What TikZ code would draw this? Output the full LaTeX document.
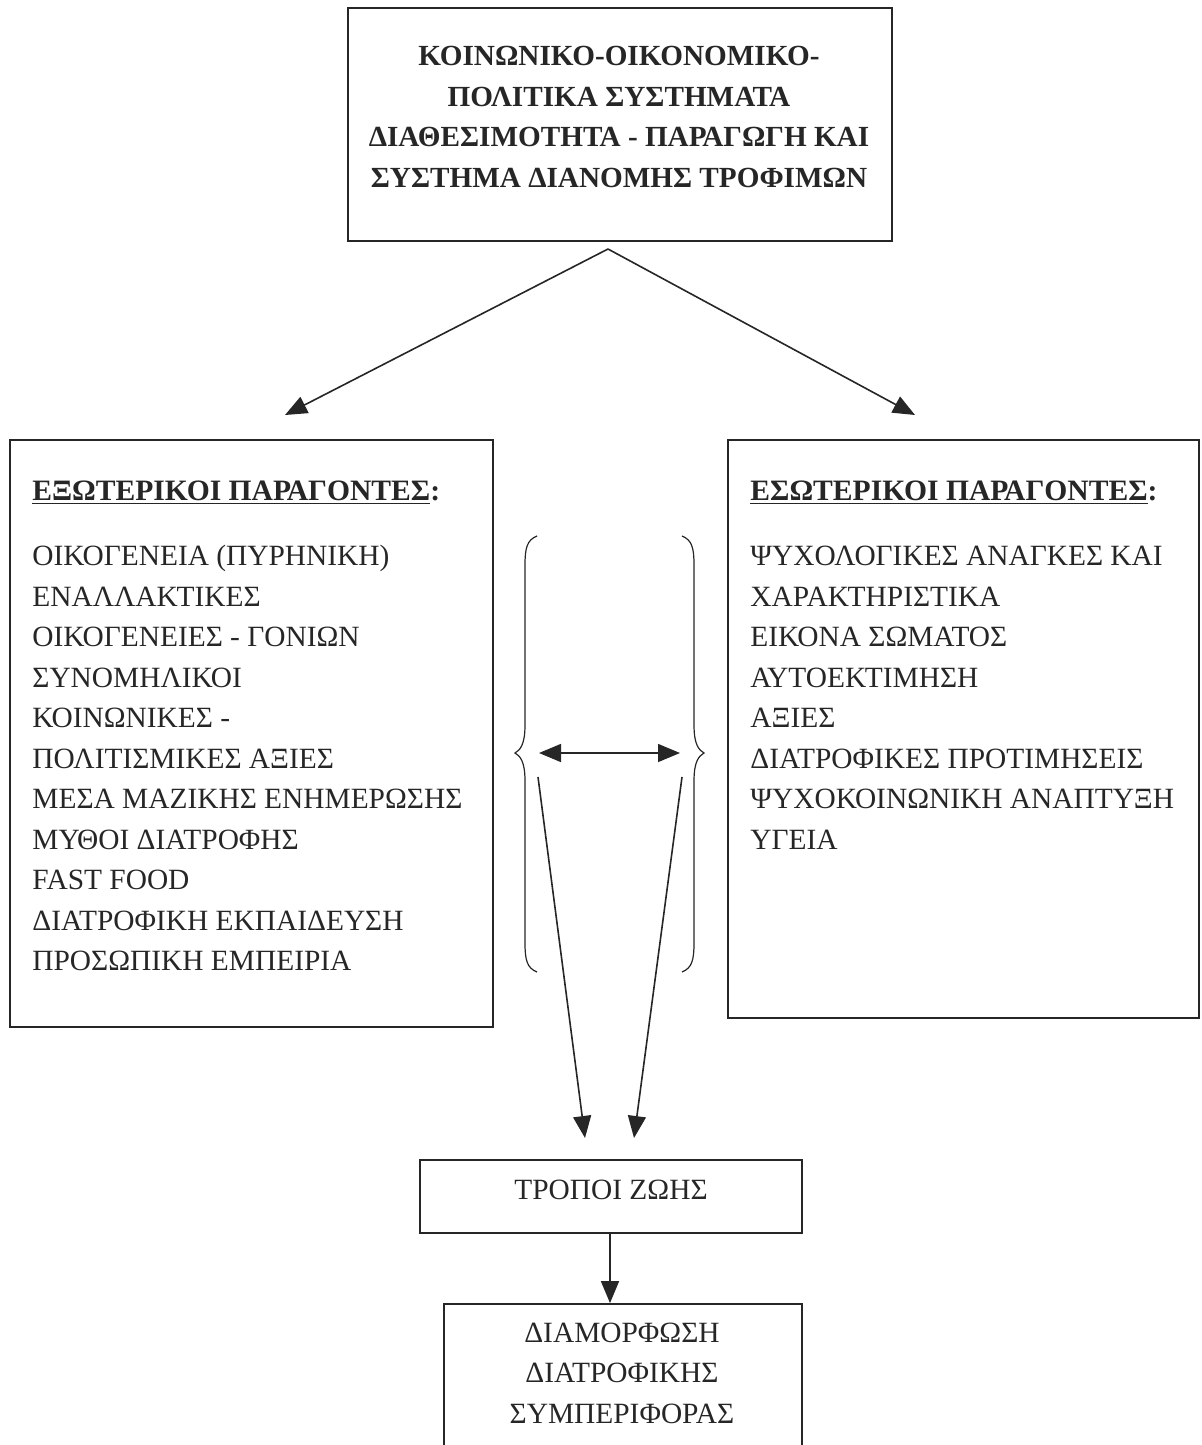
\documentclass[tikz,border=0pt]{standalone}
\usepackage{fontspec}
\setmainfont{Liberation Serif}
\usetikzlibrary{arrows.meta}
\definecolor{ink}{rgb}{0.15,0.15,0.15}
\begin{document}
\begin{tikzpicture}[x=0.5pt,y=-0.5pt,
  box/.style={draw=ink,line width=0.9pt,rectangle,inner sep=0pt},
  txt/.style={text=ink,inner sep=0pt,font=\fontsize{14.7pt}{20.25pt}\selectfont},
  hdr/.style={text=ink,inner sep=0pt,font=\fontsize{14.8pt}{20.25pt}\selectfont\bfseries},
  arr/.style={draw=ink,line width=0.8pt,-{Triangle[length=11pt,width=9pt]}},
  dbl/.style={draw=ink,line width=0.8pt,{Triangle[length=11pt,width=9pt]}-{Triangle[length=11pt,width=9pt]}},
  brc/.style={draw=ink,line width=0.6pt}]
\useasboundingbox (0,0) rectangle (1201,1445);
\clip (0,0) rectangle (1201,1445);
% boxes
\node[box,minimum width=272pt,minimum height=116.5pt] (top) at (620,124.5) {};
\node[box,minimum width=241.5pt,minimum height=293.5pt] (left) at (251.5,733.5) {};
\node[box,minimum width=235.5pt,minimum height=289pt] (right) at (963.5,729) {};
\node[box,minimum width=191pt,minimum height=36.5pt] (life) at (611,1196.5) {};
\node[box,minimum width=179pt,minimum height=90pt] (behav) at (623,1394) {};
% texts
\node[txt,align=center,font=\fontsize{14.6pt}{20.25pt}\selectfont\bfseries] (toptxt) at (619,117)
 {ΚΟΙΝΩΝΙΚΟ-ΟΙΚΟΝΟΜΙΚΟ-\\ΠΟΛΙΤΙΚΑ ΣΥΣΤΗΜΑΤΑ\\ΔΙΑΘΕΣΙΜΟΤΗΤΑ - ΠΑΡΑΓΩΓΗ ΚΑΙ\\ΣΥΣΤΗΜΑ ΔΙΑΝΟΜΗΣ ΤΡΟΦΙΜΩΝ};
\node[hdr,anchor=base west] (lhead) at (32,500)
 {\underline{ΕΞΩΤΕΡΙΚΟΙ ΠΑΡΑΓΟΝΤΕΣ}:};
\node[hdr,anchor=base west] (rhead) at (750,500)
 {\underline{ΕΣΩΤΕΡΙΚΟΙ ΠΑΡΑΓΟΝΤΕΣ}:};
\node[txt,anchor=north west,align=left] (ltxt) at (32,545)
 {ΟΙΚΟΓΕΝΕΙΑ (ΠΥΡΗΝΙΚΗ)\\ΕΝΑΛΛΑΚΤΙΚΕΣ\\ΟΙΚΟΓΕΝΕΙΕΣ - ΓΟΝΙΩΝ\\ΣΥΝΟΜΗΛΙΚΟΙ\\ΚΟΙΝΩΝΙΚΕΣ -\\ΠΟΛΙΤΙΣΜΙΚΕΣ ΑΞΙΕΣ\\ΜΕΣΑ ΜΑΖΙΚΗΣ ΕΝΗΜΕΡΩΣΗΣ\\ΜΥΘΟΙ ΔΙΑΤΡΟΦΗΣ\\FAST FOOD\\ΔΙΑΤΡΟΦΙΚΗ ΕΚΠΑΙΔΕΥΣΗ\\ΠΡΟΣΩΠΙΚΗ ΕΜΠΕΙΡΙΑ};
\node[txt,anchor=north west,align=left] (rtxt) at (750,546)
 {ΨΥΧΟΛΟΓΙΚΕΣ ΑΝΑΓΚΕΣ ΚΑΙ\\ΧΑΡΑΚΤΗΡΙΣΤΙΚΑ\\ΕΙΚΟΝΑ ΣΩΜΑΤΟΣ\\ΑΥΤΟΕΚΤΙΜΗΣΗ\\ΑΞΙΕΣ\\ΔΙΑΤΡΟΦΙΚΕΣ ΠΡΟΤΙΜΗΣΕΙΣ\\ΨΥΧΟΚΟΙΝΩΝΙΚΗ ΑΝΑΠΤΥΞΗ\\ΥΓΕΙΑ};
\node[txt] (lifetxt) at (611,1190) {ΤΡΟΠΟΙ ΖΩΗΣ};
\node[txt,align=center] (behavtxt) at (622,1373) {ΔΙΑΜΟΡΦΩΣΗ\\ΔΙΑΤΡΟΦΙΚΗΣ\\ΣΥΜΠΕΡΙΦΟΡΑΣ};
% coordinates
\coordinate (apex) at (608,249);
\coordinate (ltip) at (285,415);
\coordinate (rtip) at (915,415);
\coordinate (dl0) at (538,777);
\coordinate (dr0) at (682,777);
\coordinate (dl1) at (585,1138);
\coordinate (dr1) at (634,1138);
\coordinate (hl) at (539,753);
\coordinate (hr) at (680,753);
% connectors
\draw[arr] (apex) -- (ltip);
\draw[arr] (apex) -- (rtip);
\draw[dbl] (hl) -- (hr);
\draw[arr] (dl0) -- (dl1);
\draw[arr] (dr0) -- (dr1);
\draw[arr] (life.south -| 610,0) -- (behav.north -| 610,0);
% braces
\draw[brc] (537,536) .. controls (527,540) and (525,548) .. (525,565) -- (525,725)
  .. controls (525,745) and (520,750) .. (515,753)
  .. controls (520,756) and (525,761) .. (525,781) -- (525,943)
  .. controls (525,960) and (527,968) .. (537,972);
\draw[brc] (682,536) .. controls (692,540) and (694,548) .. (694,565) -- (694,725)
  .. controls (694,745) and (699,750) .. (704,753)
  .. controls (699,756) and (694,761) .. (694,781) -- (694,943)
  .. controls (694,960) and (692,968) .. (682,972);
\end{tikzpicture}
\end{document}
